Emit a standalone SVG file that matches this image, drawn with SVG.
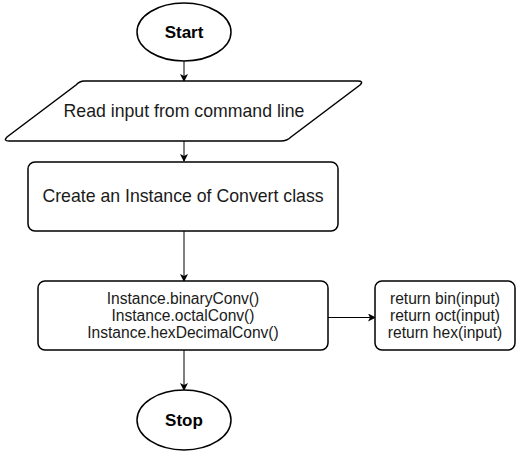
<svg xmlns="http://www.w3.org/2000/svg" width="517" height="452" viewBox="0 0 517 452">
<defs>
<style>
.shape{fill:#fff;stroke:#000;stroke-width:1.5}
.t{font-family:"Liberation Sans",Arial,sans-serif;fill:#1a1a1a;text-anchor:middle}
.big{font-size:17.7px}
.b{font-size:17px;font-weight:bold;fill:#000}
.sm{font-size:15.6px}
.edge{stroke:#000;stroke-width:1;fill:none}
</style>
<marker id="ah" markerWidth="8" markerHeight="8" refX="7" refY="4" orient="auto" markerUnits="userSpaceOnUse">
<path d="M0,0 L8,4 L0,8 L2,4 Z" fill="#000"/>
</marker>
</defs>
<rect width="517" height="452" fill="#fff"/>
<g id="connectors">
<path class="edge" d="M184,61 V81" marker-end="url(#ah)"/>
<path class="edge" d="M184,141 V161" marker-end="url(#ah)"/>
<path class="edge" d="M184,231 V281" marker-end="url(#ah)"/>
<path class="edge" d="M184,350 V390" marker-end="url(#ah)"/>
<path class="edge" d="M328,317.5 H375" marker-end="url(#ah)"/>
</g>
<g id="start">
<ellipse class="shape" cx="184" cy="32" rx="47" ry="29"/>
<text class="t b" x="184" y="38">Start</text>
</g>
<g id="read">
<path class="shape" d="M84,81 H358 Q364,81 360,85 L291,137 Q287,141 281,141 H9 Q3,141 7,137 L76,85 Q80,81 84,81 Z"/>
<text class="t big" x="184" y="117">Read input from command line</text>
</g>
<g id="create">
<rect class="shape" x="28" y="162" width="310" height="69" rx="7"/>
<text class="t big" x="183" y="202">Create an Instance of Convert class</text>
</g>
<g id="calls">
<rect class="shape" x="38" y="281" width="290" height="69" rx="7"/>
<text class="t sm" x="183" y="304">Instance.binaryConv()</text>
<text class="t sm" x="183" y="321">Instance.octalConv()</text>
<text class="t sm" x="183" y="338">Instance.hexDecimalConv()</text>
</g>
<g id="returns">
<rect class="shape" x="375" y="281" width="140" height="69" rx="7"/>
<text class="t sm" x="445" y="304">return bin(input)</text>
<text class="t sm" x="445" y="321">return oct(input)</text>
<text class="t sm" x="445" y="338">return hex(input)</text>
</g>
<g id="stop">
<ellipse class="shape" cx="184" cy="420" rx="47" ry="30"/>
<text class="t b" x="184" y="426">Stop</text>
</g>
</svg>
